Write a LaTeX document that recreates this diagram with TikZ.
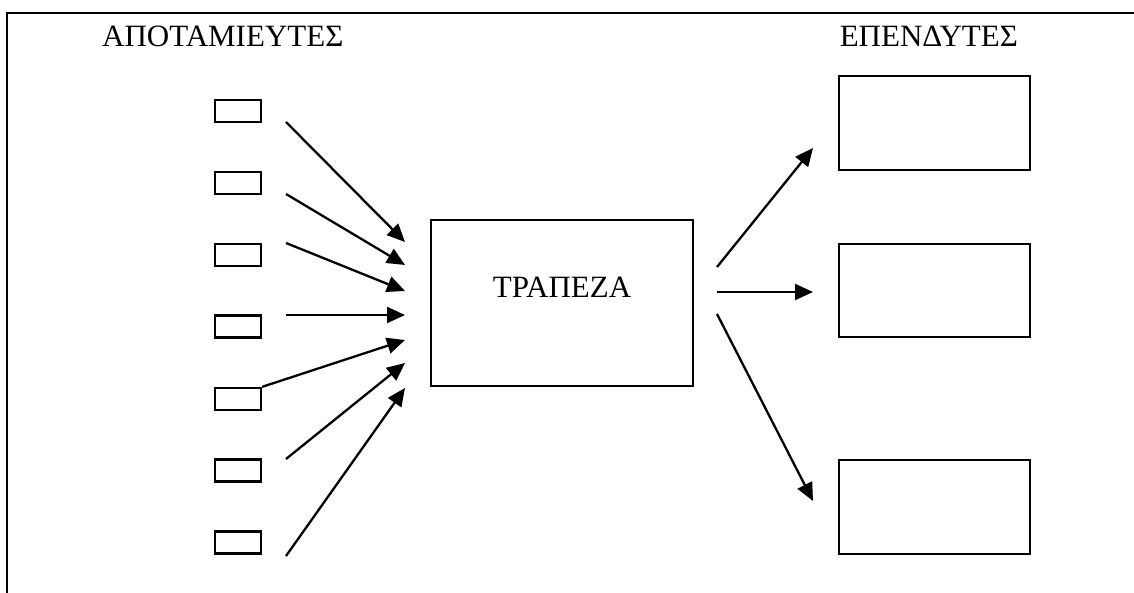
\documentclass[tikz,border=0pt]{standalone}
\usepackage{fontspec}
\setmainfont{Liberation Serif}
\usetikzlibrary{arrows.meta}
\tikzset{
  frameline/.style={line width=2.4pt},
  smallbox/.style={draw, line width=2.3pt, minimum width=46pt, minimum height=22pt, inner sep=0pt},
  bigbox/.style={draw, line width=2.3pt, inner sep=0pt},
  lbl/.style={inner sep=0pt, font=\fontsize{31}{36}\selectfont},
  arr/.style={line width=2.3pt, -{Triangle[length=18pt,width=16pt]}},
}
\begin{document}
\begin{tikzpicture}[x=1pt,y=-1pt]
\useasboundingbox (0,0) rectangle (1134,593);
% frame (left and top only)
\coordinate (fb) at (7,593);
\coordinate (ftl) at (7,13);
\coordinate (ftr) at (1134,13);
\draw[frameline] (fb) -- (ftl) -- (ftr);
% labels
\node[lbl, anchor=base west] (saverslbl) at (102,47) {ΑΠΟΤΑΜΙΕΥΤΕΣ};
\node[lbl, anchor=base east] (invlbl) at (1018,47) {ΕΠΕΝΔΥΤΕΣ};
% small boxes
\node[smallbox] (s1) at (238,111) {};
\node[smallbox] (s2) at (238,183) {};
\node[smallbox] (s3) at (238,255) {};
\node[smallbox] (s4) at (238,326.5) {};
\node[smallbox] (s5) at (238,399) {};
\node[smallbox] (s6) at (238,470.5) {};
\node[smallbox] (s7) at (238,542.5) {};
% bank
\node[bigbox, minimum width=262pt, minimum height=166pt] (bank) at (562,303) {};
\node[lbl, anchor=base] (banklbl) at (562,298) {ΤΡΑΠΕΖΑ};
% investor boxes
\node[bigbox, minimum width=191pt, minimum height=94pt] (i1) at (934.5,123) {};
\node[bigbox, minimum width=191pt, minimum height=93pt] (i2) at (934.5,290.5) {};
\node[bigbox, minimum width=191pt, minimum height=94pt] (i3) at (934.5,507) {};
% left arrows
\coordinate (a1s) at (286,122); \coordinate (a1e) at (405,242);
\coordinate (a2s) at (286,194); \coordinate (a2e) at (405,265);
\coordinate (a3s) at (286,243); \coordinate (a3e) at (405,291);
\coordinate (a4s) at (286,315); \coordinate (a4e) at (405,315);
\coordinate (a5e) at (405,340);
\coordinate (a6s) at (286,459); \coordinate (a6e) at (405,363);
\coordinate (a7s) at (286,556); \coordinate (a7e) at (405,388);
\draw[arr] (a1s) -- (a1e);
\draw[arr] (a2s) -- (a2e);
\draw[arr] (a3s) -- (a3e);
\draw[arr] (a4s) -- (a4e);
\draw[arr] (s5.north east) -- (a5e);
\draw[arr] (a6s) -- (a6e);
\draw[arr] (a7s) -- (a7e);
% right arrows
\coordinate (b1s) at (717,267); \coordinate (b1e) at (813,148);
\coordinate (b2s) at (717,292); \coordinate (b2e) at (813,292);
\coordinate (b3s) at (717,314); \coordinate (b3e) at (813,501);
\draw[arr] (b1s) -- (b1e);
\draw[arr] (b2s) -- (b2e);
\draw[arr] (b3s) -- (b3e);
\end{tikzpicture}
\end{document}
